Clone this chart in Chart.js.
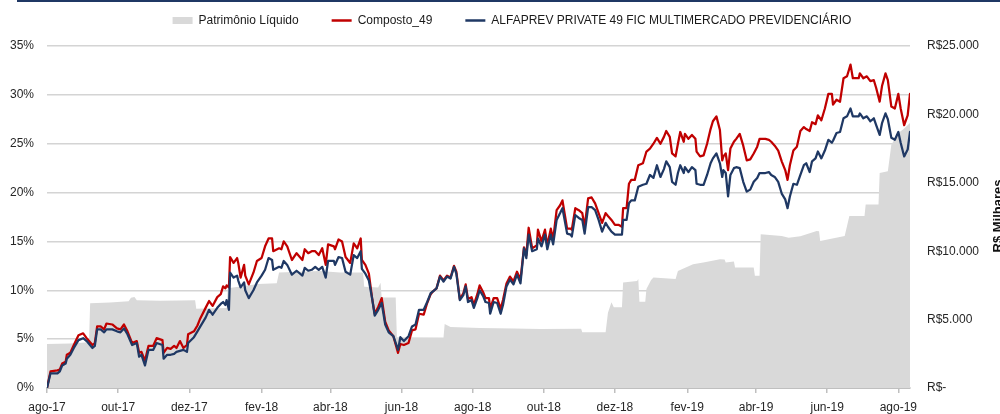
<!DOCTYPE html>
<html><head><meta charset="utf-8">
<script src="https://cdn.jsdelivr.net/npm/chart.js@4"></script>
<style>
html,body{margin:0;padding:0;background:#fff;}
#wrap{position:relative;width:1000px;height:414px;overflow:hidden;}
#topline{position:absolute;left:17px;top:0;width:983px;height:2px;background:#1f3864;}
canvas{position:absolute;left:0;top:0;}
</style></head><body>
<div id="wrap"><canvas id="c" width="1000" height="414"></canvas><div id="topline"></div></div>
<script>
// Days since 01-Aug-2017
const days = [
0,3,9,11,13,16,17,20,23,27,
31,34,39,41,43,46,49,51,56,60,
63,66,69,73,77,79,81,84,87,91,
94,99,100,103,106,109,111,114,117,120,
121,126,129,131,136,139,142,146,149,151,
153,154,156,157,160,163,164,166,169,170,
173,177,180,184,187,190,193,194,199,201,
203,206,210,214,219,221,224,227,230,233,
236,239,241,246,247,250,253,256,260,263,
266,269,270,273,276,279,281,284,287,290,
293,297,301,303,306,310,313,316,319,323,
326,329,331,334,337,340,343,346,349,351,
354,357,359,361,364,366,369,371,374,376,
379,380,383,386,389,391,394,397,400,403,
406,409,411,413,416,420,421,424,427,429,
432,434,437,440,442,446,449,450,453,456,
459,461,464,467,470,473,476,479,481,484,
487,490,493,494,497,499,501,504,507,511,
514,517,520,523,526,529,531,534,536,539,
541,543,546,547,550,553,556,557,560,563,
566,569,571,574,577,579,580,582,584,586,
589,591,594,597,600,603,606,609,611,616,
619,621,624,627,630,633,635,637,640,643,
646,649,651,654,656,659,661,664,667,670,
673,674,677,680,683,686,689,691,696,697,
700,703,706,709,711,714,716,719,721,724,
727,730,732,735,738,740];

// ALFAPREV PRIVATE 49 FIC MULTIMERCADO PREVIDENCIÁRIO (%)
const fundo = [
0,1.5,1.5,1.7,2.3,2.5,3.0,3.4,4.1,4.9,
5.1,4.8,4.1,4.3,6.0,6.0,5.7,6.0,6.0,5.8,
5.7,6.1,5.5,4.4,4.6,3.2,3.4,2.3,3.9,3.9,
4.6,4.4,3.0,3.4,3.4,3.5,3.7,3.8,3.9,3.7,
4.6,5.2,5.8,6.2,7.2,8.0,7.5,8.2,8.6,8.8,
8.5,9.0,8.0,11.8,11.3,11.5,11.0,10.3,10.8,10.0,
9.2,10.0,10.8,11.5,12.1,13.3,13.1,12.1,12.4,12.3,
13.0,12.6,11.6,12.0,11.5,12.3,12.0,12.1,12.4,12.1,
12.4,11.3,13.0,13.0,12.6,13.4,13.3,11.9,11.6,13.6,
13.3,14.0,12.2,11.7,11.0,9.0,7.4,8.0,8.7,6.5,
5.7,5.3,3.9,5.2,4.8,5.3,6.3,6.5,8.0,8.0,
8.8,9.7,9.9,10.2,11.4,10.9,11.4,11.2,12.4,11.7,
9.0,9.5,10.4,8.8,9.0,8.2,9.2,10.0,9.4,8.8,
8.7,7.6,8.8,8.7,7.6,8.5,10.4,11.1,10.6,11.6,
10.7,14.3,13.3,15.7,14.0,14.2,15.3,14.5,15.7,14.2,
15.7,14.7,17.2,17.9,18.4,15.8,15.7,15.5,17.7,17.4,
17.2,15.8,18.5,18.5,18.2,17.2,16.0,16.9,16.5,16.0,
15.7,15.7,15.7,17.2,17.2,18.9,19.2,19.2,20.6,20.8,
20.9,21.8,21.5,22.8,21.6,22.4,23.2,22.6,21.1,20.8,
22.0,22.8,22.0,22.6,22.1,22.6,22.3,20.9,20.8,20.8,
21.8,23.0,23.5,24.0,23.0,21.6,22.3,22.0,19.6,21.8,
22.5,22.6,22.5,21.1,20.1,20.3,21.1,21.5,22.0,22.0,
22.1,21.8,21.6,21.1,19.9,19.3,18.4,19.6,20.9,20.8,
21.8,22.8,23.0,22.1,23.2,23.5,24.2,23.5,24.3,25.4,
25.1,25.3,26.1,26.2,27.6,27.8,28.6,27.8,27.8,28.1,
27.6,27.8,27.3,27.6,26.9,25.9,27.1,28.1,27.5,25.6,
25.4,26.2,25.1,23.7,24.4,26.2];

// Composto_49 (%)
const composto = [
0,1.7,1.8,1.9,2.5,2.7,3.4,3.6,4.4,5.4,
5.6,5.1,4.4,4.6,6.3,6.3,6.0,6.6,6.5,6.1,
6.0,6.5,5.8,4.6,4.8,3.6,3.7,2.8,4.3,4.3,
5.1,4.9,3.6,4.1,4.0,4.3,4.1,4.8,4.1,4.4,
5.5,5.8,6.4,7.0,8.2,8.9,8.4,9.3,9.6,10.4,
10.2,10.5,10.3,13.4,12.8,13.3,12.8,11.3,12.6,11.5,
10.6,11.8,13.0,13.3,14.5,15.3,15.3,14.0,14.3,14.2,
15.0,14.5,13.1,13.8,13.1,14.2,13.8,14.0,14.0,13.6,
14.3,12.6,14.7,14.5,14.2,15.2,15.0,13.4,12.8,14.8,
14.3,15.3,13.1,12.6,11.7,9.0,7.6,8.3,9.2,6.8,
5.9,5.3,3.6,4.5,4.4,4.6,5.9,6.0,7.6,7.5,
8.7,9.6,9.9,10.2,11.5,11.0,11.5,11.3,12.5,11.9,
9.1,9.7,10.6,9.1,9.3,8.5,9.6,10.5,9.8,9.2,
9.2,8.1,9.2,9.2,8.1,9.0,10.7,11.4,10.9,11.9,
11.1,14.4,13.6,16.4,14.3,14.6,16.2,15.0,16.2,14.6,
16.3,15.2,18.2,18.7,19.2,16.3,16.3,16.2,18.4,18.2,
17.9,16.5,19.4,19.5,18.9,17.9,16.9,17.9,17.6,17.2,
16.7,16.7,16.5,18.4,18.4,20.9,21.3,21.3,22.8,23.0,
24.2,24.5,25.0,25.6,25.0,25.7,26.3,25.7,24.0,23.7,
25.0,26.2,25.2,26.0,25.5,25.9,25.5,24.2,23.7,23.8,
25.0,26.5,27.3,27.8,26.4,23.3,23.7,24.0,22.3,24.5,
25.2,25.5,26.0,24.8,23.3,23.4,24.0,24.7,25.5,25.5,
25.4,25.2,24.8,24.3,23.2,22.3,21.3,22.8,24.3,24.7,
26.3,26.7,26.5,26.3,27.2,27.0,27.9,27.4,28.6,30.1,
30.1,29.0,29.5,29.3,31.7,31.9,33.1,31.7,31.7,32.2,
31.7,31.9,31.4,31.5,30.7,29.3,30.9,32.2,31.5,28.8,
28.6,30.1,28.6,26.9,27.9,30.1];

// Patrimônio Líquido (R$ milhares)
const plDays = [0,20,36,37,54,70,72,75,77,97,114,127,128,154,155,181,197,199,217,234,251,271,272,284,286,287,299,300,340,341,346,371,400,423,458,459,479,481,484,486,493,494,506,507,508,513,514,518,520,539,541,554,564,577,581,582,589,590,606,607,611,612,630,636,646,660,662,663,684,688,701,702,713,714,721,724,730,734,740];
const plValues = [3220,3260,3350,6200,6250,6350,6600,6650,6420,6380,6400,6420,5800,5850,7300,7600,7650,8450,8500,8550,8450,8450,7400,7350,7700,6620,6620,3710,3700,4680,4450,4390,4350,4320,4330,4080,4080,5500,6260,5900,5900,7720,7830,7960,6300,6300,7230,7900,8080,7960,8560,9050,9200,9410,9400,9170,9250,8810,8800,8200,8200,11230,11110,10990,11100,11470,11450,10750,11110,12570,12570,13420,13420,15720,15840,17790,18640,18900,19370];

const xTickDays = [0,61,122,184,243,304,365,426,487,549,608,669,730];
const xTickLabels = ['ago-17','out-17','dez-17','fev-18','abr-18','jun-18','ago-18','out-18','dez-18','fev-19','abr-19','jun-19','ago-19'];
const leftTickLabels = ['0%','5%','10%','15%','20%','25%','30%','35%'];
const rightTickLabels = ['R$-','R$5.000','R$10.000','R$15.000','R$20.000','R$25.000'];
const seriesNames = ['Patrimônio Líquido','Composto_49','ALFAPREV PRIVATE 49 FIC MULTIMERCADO PREVIDENCIÁRIO'];
const rightAxisTitle = 'R$ Milhares';

const FONT = "'Liberation Sans', Arial, sans-serif";
Chart.defaults.font.family = FONT;
Chart.defaults.color = '#262626';

const toPts = (xs, ys) => xs.map((x, i) => ({x: x, y: ys[i]}));

// legend block: fixed height, shifted slightly right as in the original
const legendTweak = {
  id: 'legendTweak',
  beforeLayout(chart) {
    const lg = chart.legend;
    if (lg && !lg.$fixed) {
      const fit = lg.fit;
      lg.fit = function () { fit.call(this); this.height = 64.5; };
      const draw = lg.draw;
      lg.draw = function () {
        this.ctx.save();
        this.ctx.translate(12, 0);
        draw.apply(this, arguments);
        this.ctx.restore();
      };
      lg.$fixed = true;
    }
  }
};

const rightTitle = {
  id: 'rightTitle',
  afterDraw(chart) {
    const ctx = chart.ctx;
    const a = chart.chartArea;
    ctx.save();
    ctx.translate(1001.5, (a.top + a.bottom) / 2 - 1);
    ctx.rotate(-Math.PI / 2);
    ctx.font = "bold 13px " + FONT;
    ctx.fillStyle = '#111';
    ctx.textAlign = 'center';
    ctx.textBaseline = 'alphabetic';
    ctx.fillText(rightAxisTitle, 0, 0);
    ctx.restore();
  }
};

new Chart(document.getElementById('c'), {
  type: 'line',
  data: {
    datasets: [
      { label: seriesNames[0], data: toPts(plDays, plValues), yAxisID: 'y2', fill: 'origin',
        backgroundColor: '#d9d9d9', borderColor: 'rgba(0,0,0,0)', borderWidth: 0,
        pointRadius: 0, pointStyle: 'rect', pointBackgroundColor: '#d9d9d9', pointBorderWidth: 0,
        tension: 0, order: 3 },
      { label: seriesNames[1], data: toPts(days, composto), yAxisID: 'y', fill: false,
        borderColor: '#c00000', backgroundColor: '#c00000', borderWidth: 2.25,
        borderJoinStyle: 'round', borderCapStyle: 'round',
        pointRadius: 0, pointStyle: 'line', pointBorderColor: '#c00000', pointBorderWidth: 2.5,
        tension: 0, order: 2 },
      { label: seriesNames[2], data: toPts(days, fundo), yAxisID: 'y', fill: false,
        borderColor: '#1f3864', backgroundColor: '#1f3864', borderWidth: 2.25,
        borderJoinStyle: 'round', borderCapStyle: 'round',
        pointRadius: 0, pointStyle: 'line', pointBorderColor: '#1f3864', pointBorderWidth: 2.5,
        tension: 0, order: 1 }
    ]
  },
  options: {
    responsive: false,
    animation: false,
    devicePixelRatio: 1,
    layout: { padding: { left: 0, right: 0, top: -18.5, bottom: 0 } },
    plugins: {
      legend: {
        position: 'top',
        labels: {
          usePointStyle: true, pointStyleWidth: 20, boxHeight: 7, padding: 33,
          font: { size: 12 }, color: '#1a1a1a',
          sort: (a, b) => a.datasetIndex - b.datasetIndex
        }
      },
      tooltip: { enabled: false }
    },
    scales: {
      x: {
        type: 'linear', min: 0, max: 740,
        afterBuildTicks: s => { s.ticks = xTickDays.map(v => ({ value: v })); },
        afterFit: s => { s.height = 26; },
        ticks: { autoSkip: false, maxRotation: 0, padding: 7, font: { size: 12 }, color: '#262626',
                 callback: (v, i) => xTickLabels[i] },
        grid: { display: true, drawOnChartArea: false, drawTicks: true, tickLength: 5, color: '#bfbfbf', lineWidth: 1.5 },
        border: { display: true, color: '#bfbfbf', width: 2 }
      },
      y: {
        position: 'left', min: 0, max: 35,
        afterFit: s => { s.width = 47; },
        ticks: { stepSize: 5, padding: 13, font: { size: 12 }, color: '#262626',
                 callback: v => leftTickLabels[Math.round(v / 5)] },
        grid: { color: '#d4d4d4', lineWidth: 1.5, drawTicks: false },
        border: { display: false }
      },
      y2: {
        position: 'right', min: 0, max: 25000,
        afterFit: s => { s.width = 90; },
        ticks: { stepSize: 5000, padding: 17, font: { size: 12 }, color: '#262626',
                 callback: v => rightTickLabels[Math.round(v / 5000)] },
        grid: { display: false, drawTicks: false },
        border: { display: false }
      }
    }
  },
  plugins: [legendTweak, rightTitle]
});
</script>
</body></html>
